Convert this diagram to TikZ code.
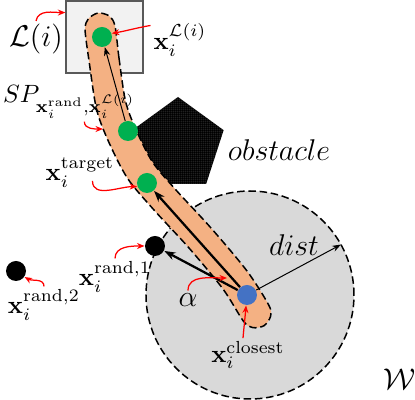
\documentclass[tikz,border=0pt]{standalone}
\usepackage{tikz}
\usetikzlibrary{shapes.geometric, arrows.meta, positioning, calc, patterns.meta}

\definecolor{bandorange}{HTML}{F4B183}
\definecolor{ptgreen}{HTML}{00B050}
\definecolor{ptblue}{HTML}{4472C4}
\definecolor{wsgray}{HTML}{D9D9D9}
\definecolor{boxgray}{HTML}{F2F2F2}
\definecolor{boxedge}{HTML}{595959}

\begin{document}
\begin{tikzpicture}[
  x=0.4pt, y=0.4pt,
  point/.style={circle, minimum size=8pt, inner sep=0pt},
  lbl/.style={inner sep=1pt},
  pointer/.style={red, line width=0.5pt, -{Stealth[length=3pt, width=2.4pt]}},
  thickarrow/.style={line width=0.9pt, -{Stealth[length=4.5pt, width=3.2pt]}},
  thinarrow/.style={line width=0.4pt, -{Stealth[length=3.5pt, width=2.5pt]}},
  border/.style={dash pattern=on 3pt off 1.5pt, line width=0.6pt}
]
\useasboundingbox (0,0) rectangle (415,400);

% Neighbourhood of the closest point
\coordinate (wc) at (250,105);
\fill[wsgray] (wc) circle[radius=104];
\draw[border] (wc) circle[radius=104];
\coordinate (rim) at ($(wc)+(29:104)$);

% Obstacle and local region
\path[shift={(178,255)}, preaction={fill=black}, pattern={Dots[distance=0.9pt, radius=0.15pt]}, pattern color=white]
  (90:48) -- (162:48) -- (234:48) -- (306:48) -- (18:48) -- cycle;
\node[draw=boxedge, fill=boxgray, line width=0.5pt, minimum width=30.8pt, minimum height=28.8pt, inner sep=0pt] (box) at (104.5,363) {};

% Shortest path band
\filldraw[fill=bandorange, border] plot[smooth cycle] coordinates {
  (115,374) (119,342) (125.5,299) (135.7,271) (152.5,238) (176,210) (211,172) (247,129) (268.7,95)
  (270.6,83.7) (264,74.3) (252.7,72.4)
  (243.3,79) (223,111) (189,152) (154,190) (127.5,221.7) (108.3,259) (96.5,291) (89.2,338) (85.1,370)
  (88.2,381) (98.1,387) (109.2,384)};

% Points
\node[point, fill=ptgreen] (local) at (102,363) {};
\node[point, fill=ptgreen] (sp) at (128,269) {};
\node[point, fill=ptgreen] (target) at (147,217) {};
\node[point, fill=ptblue] (closest) at (247,105) {};
\node[point, fill=black] (rand1) at (155,154) {};
\node[point, fill=black] (rand2) at (16,129) {};

\draw[thinarrow] (sp) -- (local);
\draw[thickarrow] (closest) -- (target);
\draw[thickarrow] (closest) -- (rand1);
\draw[thinarrow] (closest) -- (rim);

% Labels
\node[lbl, font=\large] (Llab) at (36,361) {$\mathcal{L}(i)$};
\node[lbl] (xLlab) at (180,360) {$\mathbf{x}_i^{\mathcal{L}(i)}$};
\node[lbl, anchor=west] (SPlab) at (0,298) {$SP_{\mathbf{x}_i^{\mathrm{rand}},\mathbf{x}_i^{\mathcal{L}(i)}}$};
\node[lbl] (tlab) at (80,227) {$\mathbf{x}_i^{\mathrm{target}}$};
\node[lbl, font=\large] (olab) at (279,250) {$obstacle$};
\node[lbl] (r1lab) at (115,123) {$\mathbf{x}_i^{\mathrm{rand},1}$};
\node[lbl] (r2lab) at (44,95) {$\mathbf{x}_i^{\mathrm{rand},2}$};
\node[lbl, font=\large] (alab) at (188,100) {$\alpha$};
\node[lbl, font=\large] (dlab) at (294,155) {$dist$};
\node[lbl] (clab) at (248,45) {$\mathbf{x}_i^{\mathrm{closest}}$};
\node[lbl, font=\large] (wlab) at (400,21) {$\mathcal{W}$};

\coordinate (spedge) at (103,271);
\coordinate (alphapt) at (227,122);

% Red pointers
\draw[pointer] (Llab.north) to[out=80, in=180] (box.148);
\draw[pointer] ([yshift=-2pt]xLlab.north west) to[out=190, in=10] (local.20);
\draw[pointer] ([xshift=6pt]SPlab.south) to[out=270, in=180] (spedge);
\draw[pointer] ([xshift=5pt,yshift=4pt]tlab.south) to[out=270, in=180] (target.200);
\draw[pointer] (r1lab.north) to[out=90, in=180] (rand1.west);
\draw[pointer] (r2lab.north) to[out=90, in=-30] (rand2.-35);
\draw[pointer] (alab.north) to[out=90, in=180] (alphapt);
\draw[pointer] ([xshift=-2pt]clab.north) to[out=85, in=265] (closest.265);

\end{tikzpicture}
\end{document}
